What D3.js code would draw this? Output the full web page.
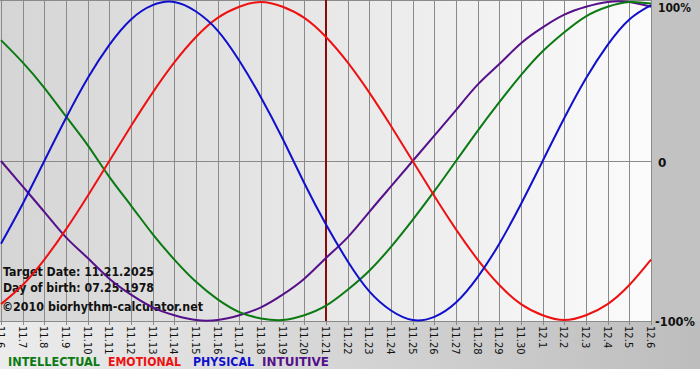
<!DOCTYPE html>
<html>
<head>
<meta charset="utf-8">
<script src="https://cdn.jsdelivr.net/npm/d3@7"></script>
<style>
  body { margin: 0; background: #fff; }
  svg { display: block; }
  text { font-family: Tahoma, "DejaVu Sans", Verdana, sans-serif; }
</style>
</head>
<body>
<div id="chart"></div>
<script>
const width = 700
const height = 380
const plot = { left: 1, right: 651, top: 2, bottom: 320 }

// day labels (Nov 6 - Dec 6)
const days = ["11.6", "11.7", "11.8", "11.9", "11.10", "11.11", "11.12", "11.13", "11.14", "11.15",
    "11.16", "11.17", "11.18", "11.19", "11.20", "11.21", "11.22", "11.23", "11.24", "11.25",
    "11.26", "11.27", "11.28", "11.29", "11.30", "12.1", "12.2", "12.3", "12.4", "12.5", "12.6"]
const targetDay = "11.21"

// values, -1 .. 1
const physical = [-0.52, -0.27, 0, 0.27, 0.52, 0.73, 0.89, 0.98, 1.00, 0.94, 0.82, 0.63, 0.40, 0.14, -0.14,
    -0.40, -0.63, -0.82, -0.94, -1.00, -0.98, -0.89, -0.73, -0.52, -0.27, 0, 0.27, 0.52, 0.73, 0.89, 0.98]
const emotional = [-0.90, -0.78, -0.62, -0.43, -0.22, 0, 0.22, 0.43, 0.62, 0.78, 0.90, 0.97, 1.00, 0.97, 0.90,
    0.78, 0.62, 0.43, 0.22, 0, -0.22, -0.43, -0.62, -0.78, -0.90, -0.97, -1.00, -0.97, -0.90, -0.78, -0.62]
const intellectual = [0.76, 0.62, 0.46, 0.28, 0.10, -0.10, -0.28, -0.46, -0.62, -0.76, -0.87, -0.95, -0.99, -1.00, -0.97,
    -0.91, -0.81, -0.69, -0.54, -0.37, -0.19, 0, 0.19, 0.37, 0.54, 0.69, 0.81, 0.91, 0.97, 1.00, 0.99]
const intuitive = [0, -0.16, -0.32, -0.48, -0.61, -0.74, -0.84, -0.92, -0.97, -1.00, -1.00, -0.97, -0.92, -0.84, -0.74,
    -0.61, -0.48, -0.32, -0.16, 0, 0.16, 0.32, 0.48, 0.61, 0.74, 0.84, 0.92, 0.97, 1.00, 1.00, 0.97]

const series = [
    { name: "INTELLECTUAL", values: intellectual, color: "#0b7a12" },
    { name: "EMOTIONAL", values: emotional, color: "#ee1111" },
    { name: "PHYSICAL", values: physical, color: "#1010cc" },
    { name: "INTUITIVE", values: intuitive, color: "#55108a" }
]
// order lines are painted in
const drawOrder = ["INTUITIVE", "INTELLECTUAL", "EMOTIONAL", "PHYSICAL"]

const infoLines = ["Target Date: 11.21.2025", "Day of birth: 07.25.1978"]
const copyright = "\u00a92010 biorhythm-calculator.net"

// text widths of the reference's narrow font
const legendWidths = [92, 73, 61, 67]
const legendGaps = [8, 12, 8]

let svg = d3.select("#chart").append("svg")
    .attr("width", width)
    .attr("height", height)

let defs = svg.append("defs")
let plotGrad = defs.append("linearGradient").attr("id", "plotbg")
plotGrad.append("stop").attr("offset", "0%").attr("stop-color", "#d5d5d5")
plotGrad.append("stop").attr("offset", "100%").attr("stop-color", "#fbfbfb")
let footGrad = defs.append("linearGradient").attr("id", "footbg")
footGrad.append("stop").attr("offset", "0%").attr("stop-color", "#ececec")
footGrad.append("stop").attr("offset", "100%").attr("stop-color", "#bdbdbd")

let x = d3.scalePoint()
    .domain(days)
    .range([plot.left, plot.right])
let y = d3.scaleLinear()
    .domain([-1, 1])
    .range([plot.bottom, plot.top])

// backgrounds
svg.append("rect").attr("x", 0).attr("y", 0).attr("width", width).attr("height", plot.bottom + 1)
    .style("fill", "#c2c2c2")
svg.append("rect").attr("x", 0).attr("y", plot.bottom + 1).attr("width", width).attr("height", 48)
    .style("fill", "url(#footbg)")
svg.append("rect").attr("x", 0).attr("y", 0).attr("width", plot.right).attr("height", plot.bottom + 1)
    .style("fill", "url(#plotbg)")

// grid
svg.append("line")
    .attr("x1", 0).attr("x2", plot.right).attr("y1", 0.5).attr("y2", 0.5)
    .style("stroke", "#8a8a8a")
svg.selectAll("line.grid")
    .data(days)
    .enter()
    .append("line")
    .attr("class", "grid")
    .attr("x1", d => Math.round(x(d)) + 0.5)
    .attr("x2", d => Math.round(x(d)) + 0.5)
    .attr("y1", 0)
    .attr("y2", plot.bottom + 5)
    .style("stroke", "#8a8a8a")
svg.append("line")
    .attr("x1", 0).attr("x2", plot.right)
    .attr("y1", Math.round(y(0)) + 0.5).attr("y2", Math.round(y(0)) + 0.5)
    .style("stroke", "#8a8a8a")
svg.append("line")
    .attr("x1", 0).attr("x2", plot.right + 1)
    .attr("y1", plot.bottom + 1.5).attr("y2", plot.bottom + 1.5)
    .style("stroke", "#8a8a8a")

// target date marker
svg.append("line")
    .attr("x1", x(targetDay)).attr("x2", x(targetDay))
    .attr("y1", 0).attr("y2", plot.bottom + 1)
    .style("stroke", "#8b0a0a")
    .style("stroke-width", 2)

// info text
let info = svg.append("g")
    .style("font-size", "12px")
    .style("font-weight", "bold")
    .style("fill", "#111")
info.selectAll("text.info")
    .data(infoLines)
    .enter()
    .append("text")
    .attr("class", "info")
    .attr("x", 3)
    .attr("y", (d, i) => 276 + i * 16)
    .attr("textLength", 151)
    .attr("lengthAdjust", "spacingAndGlyphs")
    .text(d => d)
info.append("text")
    .attr("x", 2)
    .attr("y", 311)
    .style("font-size", "13px")
    .attr("textLength", 201)
    .attr("lengthAdjust", "spacingAndGlyphs")
    .text(copyright)

// curves
let line = d3.line()
    .x((d, i) => x(days[i]))
    .y(d => y(d))
    .curve(d3.curveNatural)

svg.selectAll("path.curve")
    .data(drawOrder.map(n => series.find(s => s.name === n)))
    .enter()
    .append("path")
    .attr("class", "curve")
    .attr("d", d => line(d.values))
    .style("fill", "none")
    .style("stroke", d => d.color)
    .style("stroke-width", 2)

// right-hand labels
let yLabels = svg.append("g")
    .style("font-size", "12px")
    .style("font-weight", "bold")
    .style("fill", "#111")
yLabels.selectAll("text")
    .data([1, 0, -1])
    .enter()
    .append("text")
    .attr("x", d => d === 0 ? 658 : (d > 0 ? 658 : 655))
    .attr("y", d => d > 0 ? 12 : y(d) + 6)
    .attr("textLength", d => d === 0 ? null : (d > 0 ? 33 : 40))
    .attr("lengthAdjust", "spacingAndGlyphs")
    .text(d => d === 0 ? "0" : d3.format(".0%")(d).replace("\u2212", "-"))

// date tick labels, rotated
svg.selectAll("text.day")
    .data(days)
    .enter()
    .append("text")
    .attr("class", "day")
    .attr("transform", d => `translate(${x(d) - 4},${plot.bottom + 6}) rotate(90)`)
    .style("font-size", "10px")
    .style("fill", "#111")
    .text(d => d)

// legend
let legend = svg.append("g")
    .style("font-size", "12px")
    .style("font-weight", "bold")
let lx = 8
series.forEach(function (s, i) {
    legend.append("text")
        .attr("x", lx)
        .attr("y", 366)
        .attr("textLength", legendWidths[i])
        .attr("lengthAdjust", "spacingAndGlyphs")
        .style("fill", s.color)
        .text(s.name)
    lx += legendWidths[i] + (legendGaps[i] || 0)
})
</script>
</body>
</html>
